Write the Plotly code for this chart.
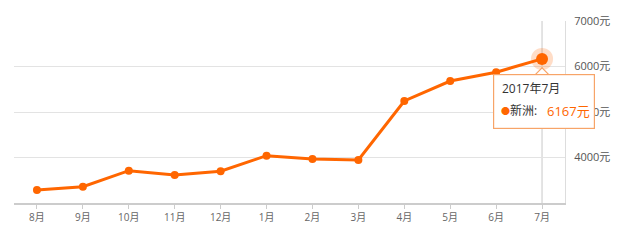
import plotly.graph_objects as go

months = ["8月", "9月", "10月", "11月", "12月", "1月", "2月", "3月", "4月", "5月", "6月", "7月"]
prices = [3286, 3358, 3710, 3615, 3697, 4040, 3967, 3945, 5242, 5681, 5875, 6167]
series_name = "新洲"
tip_title = "2017年7月"
y_ticks = [4000, 5000, 6000, 7000]
y_tick_text = [f"{v}元" for v in y_ticks]

ORANGE = "#ff6600"
FONT = "Open Sans, Noto Sans CJK SC, sans-serif"

fig = go.Figure()
fig.add_trace(go.Scatter(
    x=months, y=prices, mode="lines+markers",
    line=dict(color=ORANGE, width=3),
    marker=dict(color=ORANGE, size=8),
    hoverinfo="skip", showlegend=False,
))
# highlighted last point with halo
fig.add_trace(go.Scatter(
    x=months[-1:], y=prices[-1:], mode="markers",
    marker=dict(color="rgba(255,102,0,0.22)", size=22),
    hoverinfo="skip", showlegend=False,
))
fig.add_trace(go.Scatter(
    x=months[-1:], y=prices[-1:], mode="markers",
    marker=dict(color=ORANGE, size=12),
    hoverinfo="skip", showlegend=False,
))

# crosshair
fig.add_shape(type="line", xref="x", yref="paper", x0=months[-1], x1=months[-1], y0=0, y1=1,
              line=dict(color="#c8c8c8", width=1), layer="below")

# tooltip notch (pixel-sized, anchored to last point)
fig.add_shape(type="path", xref="x", yref="y", xsizemode="pixel", ysizemode="pixel",
              xanchor=len(months) - 1, yanchor=prices[-1],
              path="M -7,-16 L 0,-9 L 7,-16 Z",
              fillcolor="white", line=dict(color="#f7a468", width=1.2), layer="above")

# tooltip box
fig.add_annotation(x=months[-1], y=prices[-1], xref="x", yref="y", text=" ",
                   showarrow=False, xanchor="center", yanchor="top", xshift=2, yshift=-15,
                   width=98, height=51, borderpad=1,
                   bgcolor="white", bordercolor="#f7a468", borderwidth=1.2,
                   font=dict(family=FONT, size=12, color="#333"))
fig.add_annotation(x=months[-1], y=prices[-1], xref="x", yref="y", text=tip_title,
                   showarrow=False, xanchor="left", yanchor="middle", xshift=-42, yshift=-30,
                   font=dict(family=FONT, size=12, color="#333"))
fig.add_annotation(x=months[-1], y=prices[-1], xref="x", yref="y", text="●",
                   showarrow=False, xanchor="left", yanchor="middle", xshift=-43, yshift=-52,
                   font=dict(family=FONT, size=9, color=ORANGE))
fig.add_annotation(x=months[-1], y=prices[-1], xref="x", yref="y", text=f"{series_name}:",
                   showarrow=False, xanchor="left", yanchor="middle", xshift=-34, yshift=-52,
                   font=dict(family=FONT, size=12, color="#333"))
fig.add_annotation(x=months[-1], y=prices[-1], xref="x", yref="y", text=f"{prices[-1]}元",
                   showarrow=False, xanchor="left", yanchor="middle", xshift=3, yshift=-52,
                   font=dict(family=FONT, size=13, color=ORANGE))

fig.update_layout(
    width=630, height=240,
    margin=dict(l=14, r=65, t=21, b=37),
    paper_bgcolor="white", plot_bgcolor="white",
    font=dict(family=FONT, color="#666"),
    xaxis=dict(
        type="category", range=[-0.5, len(months) - 0.5],
        showgrid=False, showline=True, linecolor="#cccccc", linewidth=1.5,
        ticks="outside", ticklen=4, tickcolor="#cccccc",
        tickfont=dict(size=10, color="#666"), fixedrange=True,
    ),
    yaxis=dict(
        side="right", range=[3000, 7000],
        tickvals=y_ticks, ticktext=y_tick_text,
        showgrid=True, gridcolor="#e3e3e3", gridwidth=1,
        showline=True, linecolor="#dddddd", linewidth=1,
        zeroline=False, ticks="", ticklabelstandoff=6,
        tickfont=dict(size=11, color="#555"),
    ),
)

fig.write_html("out.html")
